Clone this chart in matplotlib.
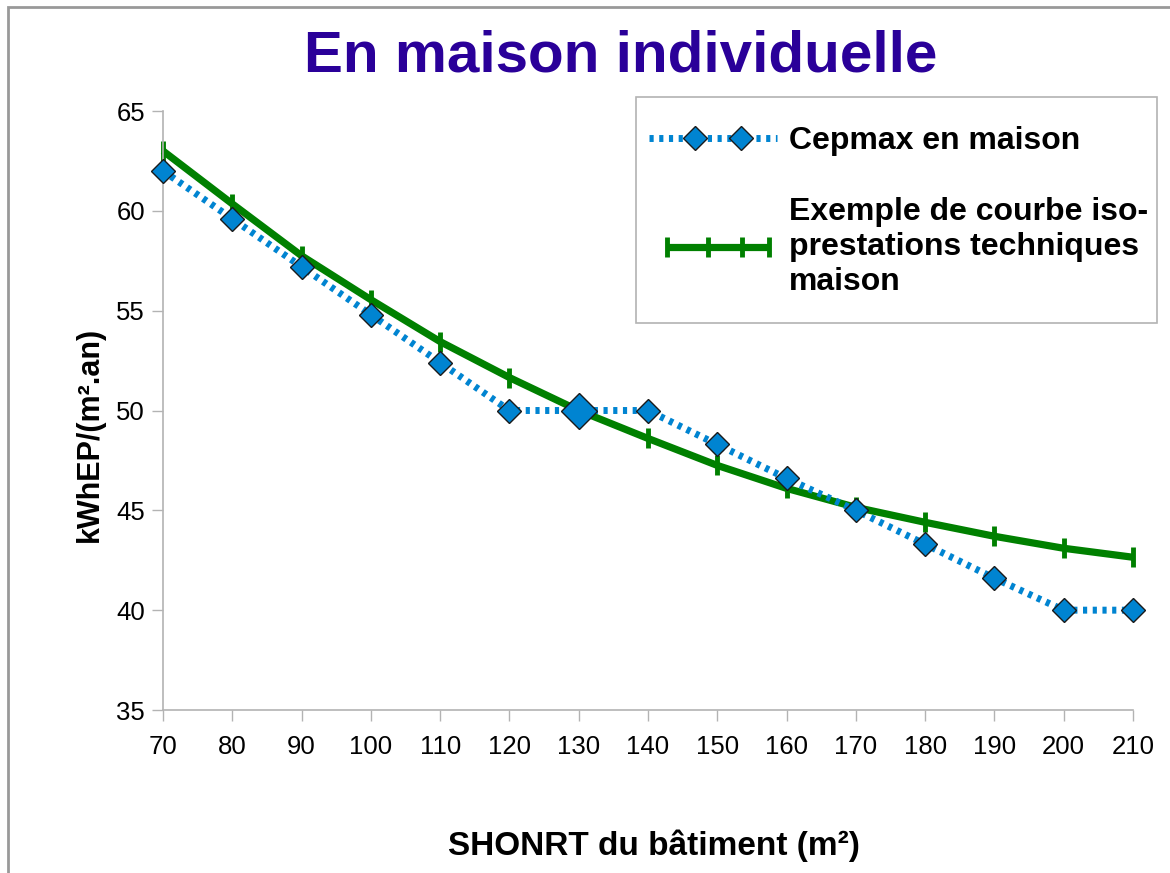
import numpy as np
import matplotlib.pyplot as plt
from matplotlib.legend_handler import HandlerBase
from matplotlib.lines import Line2D
from matplotlib.patches import Rectangle

plt.rcParams['font.family'] = ['Liberation Sans', 'DejaVu Sans']

# SHONRT (m²)
surface = [70, 80, 90, 100, 110, 120, 130, 140, 150, 160, 170, 180, 190, 200, 210]
# Cepmax en maison
cepmax = [62, 59.6, 57.2, 54.8, 52.4, 50, 50, 50, 48.3, 46.6, 45, 43.3, 41.6, 40, 40]
# courbe iso-prestations techniques maison
iso = [63.0, 60.35, 57.75, 55.55, 53.45, 51.65, 50.0, 48.6, 47.25, 46.1, 45.15, 44.4, 43.7, 43.1, 42.65]

blue = '#0084d1'
green = '#008000'
W, H = 1170, 873


class LegendLine(HandlerBase):
    # line from a to b (fractions of handle length), markers at given fractions
    def __init__(self, a, b, marks):
        super().__init__()
        self.a, self.b, self.marks = a, b, marks

    def create_artists(self, legend, orig_handle, xdescent, ydescent, width, height, fontsize, trans):
        y = (height - ydescent) / 2
        x0 = -xdescent
        line = Line2D([x0 + self.a * width, x0 + self.b * width], [y, y])
        self.update_prop(line, orig_handle, legend)
        line.set_marker('None')
        xs = [x0 + f * width for f in self.marks]
        pts = Line2D(xs, [y] * len(xs))
        self.update_prop(pts, orig_handle, legend)
        pts.set_linestyle('None')
        line.set_transform(trans)
        pts.set_transform(trans)
        return [line, pts]


fig = plt.figure(figsize=(W/100, H/100), dpi=100)
ax = fig.add_axes([163/W, 1 - 710/H, (1133-163)/W, (710-111)/H])

# outer frame of the chart area
fig.patches.append(Rectangle((8/W, -0.05), 1.1, 1 - 7/H + 0.05, transform=fig.transFigure,
                             fill=False, edgecolor='#999999', linewidth=2))
# legend box
fig.patches.append(Rectangle((636/W, 1 - 323/H), (1157-636)/W, (323-97)/H, transform=fig.transFigure,
                             facecolor='white', edgecolor='#b3b3b3', linewidth=1.2, zorder=4))

l2, = ax.plot(surface, iso, color=green, lw=5.2, marker='|', ms=15, mew=3.5,
              label="Exemple de courbe iso-\nprestations techniques\nmaison", zorder=2,
              solid_capstyle='butt')
l1, = ax.plot(surface, cepmax, color=blue, lw=5, dashes=(0.6, 0.8), marker='D', ms=12,
              mfc=blue, mec='#1a1a1a', mew=1, label='Cepmax en maison', zorder=3)
# the larger point at 130
i = surface.index(130)
ax.plot(surface[i], cepmax[i], marker='D', ms=18, mfc=blue, mec='#1a1a1a', mew=1, zorder=4)

ax.set_xlim(70, 210)
ax.set_ylim(35, 65)
ax.set_xticks(surface)
ax.set_yticks(range(35, 66, 5))
ax.tick_params(labelsize=18.5, length=8, width=1, color='#b3b3b3')
ax.tick_params(axis='x', pad=10)
ax.tick_params(axis='y', pad=5)
for s in ['top', 'right']:
    ax.spines[s].set_visible(False)
for s in ['left', 'bottom']:
    ax.spines[s].set_color('#b3b3b3')
    ax.spines[s].set_linewidth(1.2)
for l in (l1, l2):
    l.set_clip_on(False)

fig.text(621/W, 1 - 56/H, 'En maison individuelle', ha='center', va='center',
         fontsize=42, fontweight='bold', color='#2a0099')
fig.text(654/W, 1 - 846/H, 'SHONRT du bâtiment (m²)', ha='center', va='center',
         fontsize=24, fontweight='bold')
fig.text(90/W, 1 - 434/H, 'kWhEP/(m².an)', ha='center', va='center', rotation=90,
         fontsize=22, fontweight='bold')

leg = fig.legend(handles=[l1, l2], loc='upper left',
                 bbox_to_anchor=(636/W, 1 - 113/H), bbox_transform=fig.transFigure,
                 handler_map={l1: LegendLine(0.0, 1.0, [0.36, 0.72]),
                              l2: LegendLine(0.14, 0.94, [0.14, 0.4667, 0.7333, 0.94])},
                 prop={'weight': 'bold', 'size': 23}, frameon=False,
                 handlelength=4.0, labelspacing=1.3,
                 borderpad=0.4, borderaxespad=0, handletextpad=0.38)
leg.set_zorder(5)

fig.savefig('out.png', dpi=100)
